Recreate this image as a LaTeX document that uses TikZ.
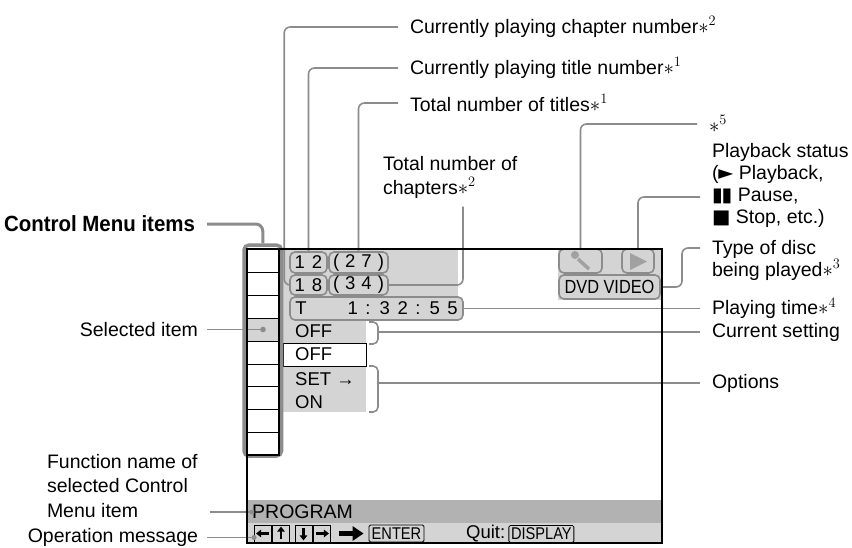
\documentclass[tikz,border=0pt]{standalone}
\usepackage{fontspec}
\setmainfont{Liberation Sans}
\newfontfamily\narrowfont[FakeStretch=0.86]{Liberation Sans}
\newfontfamily\ctrlfont[FakeStretch=0.93]{Liberation Sans}
\newfontfamily\dejavu{DejaVu Sans}
\usetikzlibrary{arrows.meta}

\definecolor{leadgray}{gray}{0.55}
\definecolor{panelgray}{gray}{0.83}
\definecolor{bargray}{gray}{0.70}
\definecolor{icongray}{gray}{0.63}

\tikzset{
  lead/.style={draw=leadgray, line width=1.6pt, rounded corners=6pt},
  lbl/.style={inner sep=0pt, outer xsep=12pt, align=left, font=\fontsize{19.5}{22}\selectfont},
  capsule/.style={draw=leadgray, line width=1.6pt, rounded corners=5pt, fill=panelgray, inner sep=0pt, font=\fontsize{18.5}{20}\selectfont},
  scr/.style={inner sep=0pt, font=\fontsize{18.5}{20}\selectfont},
  keybox/.style={draw, line width=0.8pt, minimum width=17pt, minimum height=17pt, inner sep=0pt},
  keyarrow/.style={line width=2.2pt, -{Triangle[length=5pt,width=7.5pt]}},
  btn/.style={draw, line width=0.8pt, rounded corners=1.5pt, inner sep=0pt, font=\narrowfont\fontsize{17}{17}\selectfont},
}

\begin{document}
\begin{tikzpicture}[x=1pt,y=1pt]
    \tikzstyle{every node}+=[inner sep=0pt]
    \useasboundingbox (0,0) rectangle (852,-547);
    % screen background
    \fill [panelgray] (281,-249) rectangle (458,-320);
    \fill [panelgray] (281,-320) rectangle (366,-343);
    \fill [panelgray] (281,-366) rectangle (366,-412);
    \fill [panelgray] (558,-249) rectangle (662,-300);
    \fill [bargray] (247,-500) rectangle (662,-523);
    \fill [panelgray] (247,-523) rectangle (662,-543);
    \draw [black, line width=0.8pt] (283,-343) rectangle (366,-366);
    % title / chapter / time
    \node [capsule, minimum width=37pt, minimum height=21pt] (tit) at (308.5,-262.5) {\spaceskip=7pt 1 2};
    \node [capsule, minimum width=59pt, minimum height=21pt] (tottit) at (358.5,-262.5) {\spaceskip=6pt ( 2 7 )};
    \node [capsule, minimum width=37pt, minimum height=20pt] (chap) at (308.5,-285) {\spaceskip=7pt 1 8};
    \node [capsule, minimum width=59pt, minimum height=20pt] (totchap) at (358.5,-285) {\spaceskip=6pt ( 3 4 )};
    \node [capsule, minimum width=173pt, minimum height=23pt] (time) at (376.5,-308.5) {T\hspace{41pt}{\spaceskip=7.5pt 1 : 3 2 : 5 5}\hspace{8pt}};
    % status icons
    \node [capsule, minimum width=43pt, minimum height=24pt] (mic) at (580.5,-261) {};
    \fill [icongray] (575,-255) circle (4);
    \draw [icongray, line width=3.5pt] (578,-259) -- (589,-269);
    \node [capsule, minimum width=32pt, minimum height=24pt] (play) at (638,-261) {};
    \fill [icongray] (630,-253) -- (630,-270) -- (647,-261.5) -- cycle;
    \node [capsule, minimum width=101pt, minimum height=24pt, font=\narrowfont\fontsize{19}{20}\selectfont] (disc) at (609.5,-287) {DVD VIDEO};
    % settings
    \node [scr, anchor=west] (cur) at (295,-331.5) {OFF};
    \node [scr, anchor=west] (offopt) at (295,-354.5) {OFF};
    \node [scr, anchor=west] (setopt) at (295,-379) {SET →};
    \node [scr, anchor=west] (onopt) at (295,-402) {ON};
    \coordinate (curbr) at (378,-332);
    \coordinate (optbr) at (378,-383);
    \draw [lead, rounded corners=5pt] (369,-322) -| (curbr) |- (369,-344);
    \draw [lead, rounded corners=5pt] (369,-366) -| (optbr) |- (369,-412);
    % bottom bars
    \node [scr, anchor=west, font=\fontsize{19.5}{20}\selectfont] (prog) at (252,-512) {PROGRAM};
    \node [keybox] (kleft) at (263,-533.5) {};
    \node [keybox] (kup) at (281,-533.5) {};
    \node [keybox] (kdown) at (303.5,-533.5) {};
    \node [keybox] (kright) at (322,-533.5) {};
    \draw [keyarrow] ([xshift=-3pt]kleft.east) -- ([xshift=2pt]kleft.west);
    \draw [keyarrow] ([yshift=3pt]kup.south) -- ([yshift=-2pt]kup.north);
    \draw [keyarrow] ([yshift=-3pt]kdown.north) -- ([yshift=2pt]kdown.south);
    \draw [keyarrow] ([xshift=3pt]kright.west) -- ([xshift=-2pt]kright.east);
    \node [btn, minimum width=55pt, minimum height=17pt] (enter) at (396.5,-533.5) {ENTER};
    \draw [black, line width=5pt, -{Triangle[length=11pt,width=14pt]}] ([xshift=8pt]kright.east) -- ([xshift=-5pt]enter.west);
    \node [scr, anchor=west] (quit) at (466,-534) {Quit:};
    \node [btn, minimum width=65pt, minimum height=17pt, anchor=west] (dispkey) at ([xshift=3pt]quit.east) {DISPLAY};
    % control menu column
    \node [draw=leadgray, line width=3.5pt, rounded corners=5pt, minimum width=37.5pt, minimum height=211pt] (col) at (262.75,-350.5) {};
    \fill [white] (247,-249) rectangle (279,-455);
    \node [fill=panelgray, minimum width=32pt, minimum height=23pt] (selcell) at (263,-329.5) {};
    \draw [black, line width=1.2pt] (247,-249) rectangle (279,-455);
    \draw [black, line width=1pt] (247,-272) -- (279,-272);
    \draw [black, line width=1pt] (247,-295) -- (279,-295);
    \draw [black, line width=1pt] (247,-318) -- (279,-318);
    \draw [black, line width=1pt] (247,-341) -- (279,-341);
    \draw [black, line width=1pt] (247,-364) -- (279,-364);
    \draw [black, line width=1pt] (247,-386) -- (279,-386);
    \draw [black, line width=1pt] (247,-409) -- (279,-409);
    \draw [black, line width=1pt] (247,-432) -- (279,-432);
    % labels
    \node [lbl, anchor=west] (lchap) at (398,-27) {Currently playing chapter number$\ast^{2}$};
    \node [lbl, anchor=west] (ltit) at (398,-68) {Currently playing title number$\ast^{1}$};
    \node [lbl, anchor=west] (ltottit) at (398,-103) {Total number of titles$\ast^{1}$};
    \node [lbl, anchor=north west, font=\fontsize{19.5}{24}\selectfont] (ltotchap) at (371,-156) {Total number of\\chapters$\ast^{2}$};
    \node [lbl, anchor=west] (lfive) at (697,-124) {$\ast^{5}$};
    \node [lbl, anchor=north west] (lstatus) at (700,-143) {Playback status\\({\dejavu ►} Playback,\\{\dejavu ▮\kern-1pt▮} Pause,\\{\dejavu ■} Stop, etc.)};
    \node [lbl, anchor=north west] (ldisc) at (700,-240) {Type of disc\\being played$\ast^{3}$};
    \node [lbl, anchor=west] (ltime) at (700,-308.5) {Playing time$\ast^{4}$};
    \node [lbl, anchor=west] (lcur) at (700,-332) {Current setting};
    \node [lbl, anchor=west] (lopt) at (700,-383) {Options};
    \node [lbl, anchor=east, font=\ctrlfont\bfseries\fontsize{22}{24}\selectfont] (lctrl) at (207,-224) {Control Menu items};
    \node [lbl, anchor=east, outer xsep=9pt] (lsel) at (207,-329.5) {Selected item};
    \node [lbl, anchor=north west, font=\fontsize{19.5}{24.5}\selectfont] (lfunc) at (35,-454) {Function name of\\selected Control\\Menu item};
    \node [lbl, anchor=east, outer xsep=9pt] (lop) at (207,-537.5) {Operation message};
    % leaders
    \draw [lead] (lchap.west) -| ([xshift=-5pt]chap.west) -- (chap.west);
    \draw [lead] (ltit.west) -| (tit.north);
    \draw [lead] (ltottit.west) -| (tottit.north);
    \draw [lead] ([xshift=92pt,yshift=-8pt]ltotchap.south west) |- (totchap.east);
    \draw [lead] (lfive.west) -| (mic.north);
    \draw [lead] ([yshift=-54pt]lstatus.north west) -| (play.north);
    \draw [lead] ([yshift=-8pt]ldisc.north west) -- ++(-18pt,0) |- (disc.east);
    \draw [lead] (time.east) -- (ltime.west);
    \draw [lead] (curbr) -- (lcur.west);
    \draw [lead] (optbr) -- (lopt.west);
    \draw [lead, line width=3pt, rounded corners=7pt] (lctrl.east) -| (col.north);
    \draw [lead] (lsel.east) -- (selcell.center);
    \fill [leadgray] (selcell.center) circle (2.8);
    \draw [lead] (prog.west -| lfunc.east) -- (prog.west);
    \fill [leadgray] (prog.west) circle (2.5);
    \draw [lead] (lop.east) -- (lop.east -| kleft.west);
    \fill [leadgray] (lop.east -| kleft.west) circle (2.5);
    % screen frame
    \draw [black, line width=1.5pt] (247,-249) rectangle (662,-543);
\end{tikzpicture}
\end{document}
